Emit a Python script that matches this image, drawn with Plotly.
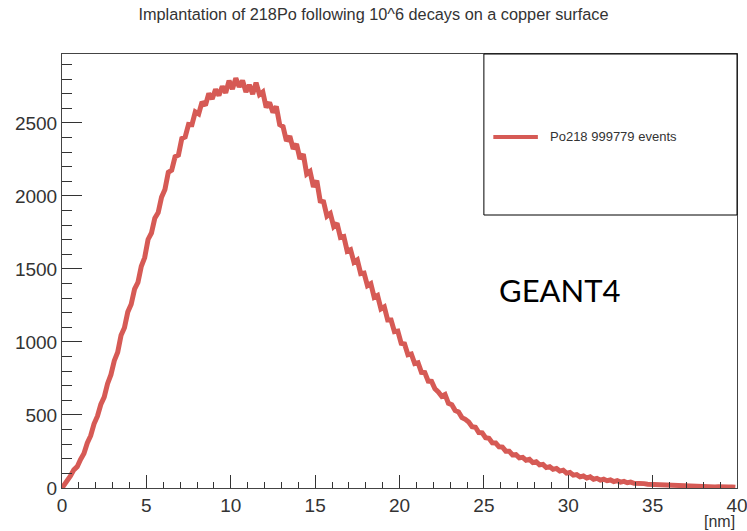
import numpy as np
import plotly.graph_objects as go

# histogram: 200 bins of 0.2 nm from 0 to 40 nm
bin_width = 0.2
x_min = 0.0
counts = [
    14, 52, 82, 124, 146, 196, 236, 308, 358, 440,
    492, 572, 622, 714, 776, 872, 930, 1046, 1098, 1206,
    1258, 1362, 1408, 1518, 1578, 1702, 1746, 1848, 1886, 1992,
    2044, 2162, 2176, 2268, 2280, 2394, 2404, 2490, 2488, 2576,
    2562, 2644, 2620, 2702, 2664, 2730, 2688, 2750, 2706, 2790,
    2732, 2806, 2748, 2790, 2712, 2760, 2698, 2776, 2694, 2712,
    2606, 2640, 2572, 2612, 2488, 2474, 2376, 2410, 2322, 2356,
    2254, 2286, 2150, 2168, 2062, 2104, 1966, 1960, 1862, 1880,
    1790, 1812, 1716, 1722, 1622, 1632, 1546, 1562, 1468, 1472,
    1386, 1400, 1306, 1318, 1226, 1240, 1150, 1150, 1070, 1074,
    990, 986, 912, 918, 852, 858, 792, 790, 732, 730,
    680, 658, 628, 640, 580, 570, 530, 520, 482, 470,
    452, 420, 416, 380, 378, 344, 340, 310, 308, 282,
    280, 252, 252, 226, 228, 206, 210, 190, 196, 174,
    180, 158, 162, 140, 146, 128, 134, 116, 122, 102,
    106, 88, 92, 76, 82, 68, 76, 60, 66, 54,
    60, 50, 55, 44, 50, 40, 45, 36, 40, 32,
    34, 30, 30, 26, 25, 21, 22, 18, 19, 16,
    16, 13, 14, 11, 13, 10, 12, 9, 11, 9,
    10, 8, 9, 7, 9, 6, 8, 6, 7, 5,
]
series_name = "Po218 999779 events"
title_text = "Implantation of 218Po following 10^6 decays on a copper surface"
x_unit = "[nm]"
overlay_text = "GEANT4"
x_range = [0, 40]
y_range = [0, 2972]

LINE_COLOR = "rgb(214,90,85)"
FONT = "Liberation Sans, Arial, sans-serif"

# bin centres
centers = x_min + bin_width * (np.arange(len(counts)) + 0.5)
xs = [x_min] + list(centers)
ys = [0] + list(counts)

fig = go.Figure()
fig.add_trace(go.Scatter(
    x=xs, y=ys, mode="lines", name=series_name,
    line=dict(color=LINE_COLOR, width=5, shape="linear"),
    showlegend=False,
))

tick_font = dict(family=FONT, size=19, color="#333333")

# legend box (paper coords of the plot area: 62..737 px, 54..488 px)
lx0, lx1, ly0, ly1 = 0.625, 1.0, 0.629, 1.0
leg_y = 0.809

fig.update_layout(
    width=747, height=531,
    margin=dict(l=62, r=10, t=54, b=43),
    paper_bgcolor="white", plot_bgcolor="white",
    title=dict(text=title_text, x=0.5, xanchor="center", y=0.973, yanchor="middle",
               font=dict(family=FONT, size=16.3, color="#333333")),
    showlegend=False,
    xaxis=dict(range=x_range, dtick=5, tick0=0, showgrid=False, zeroline=False, automargin=False,
               ticklabeloverflow="allow",
               showline=True, linecolor="#444444", linewidth=1, mirror=True,
               ticks="inside", ticklen=13, tickcolor="#333333", tickwidth=1,
               minor=dict(dtick=1, ticks="inside", ticklen=6, tickcolor="#333333", showgrid=False),
               tickfont=tick_font),
    yaxis=dict(range=y_range, dtick=500, tick0=0, showgrid=False, zeroline=False, automargin=False,
               showline=True, linecolor="#444444", linewidth=1, mirror=True,
               ticks="inside", ticklen=20, tickcolor="#333333", tickwidth=1,
               minor=dict(dtick=100, ticks="inside", ticklen=10, tickcolor="#333333", showgrid=False),
               tickfont=tick_font),
    shapes=[
        dict(type="rect", xref="paper", yref="paper", x0=lx0, x1=lx1, y0=ly0, y1=ly1,
             line=dict(color="black", width=1), fillcolor="rgba(0,0,0,0)"),
        dict(type="line", xref="paper", yref="paper", x0=0.639, x1=0.705, y0=leg_y, y1=leg_y,
             line=dict(color=LINE_COLOR, width=4)),
    ],
    annotations=[
        dict(text=series_name, xref="paper", yref="paper", x=0.720, y=leg_y, xanchor="left",
             yanchor="middle", showarrow=False,
             font=dict(family=FONT, size=13, color="#333333")),
        dict(text=x_unit, xref="paper", yref="paper", x=1.0, y=-0.078, xanchor="right",
             yanchor="middle", showarrow=False,
             font=dict(family=FONT, size=16, color="#333333")),
        dict(text=overlay_text, xref="paper", yref="paper", x=0.738, y=0.456, xanchor="center",
             yanchor="middle", showarrow=False,
             font=dict(family="Lato, Carlito, sans-serif", size=31, color="black")),
    ],
)

fig.write_html("out.html")
